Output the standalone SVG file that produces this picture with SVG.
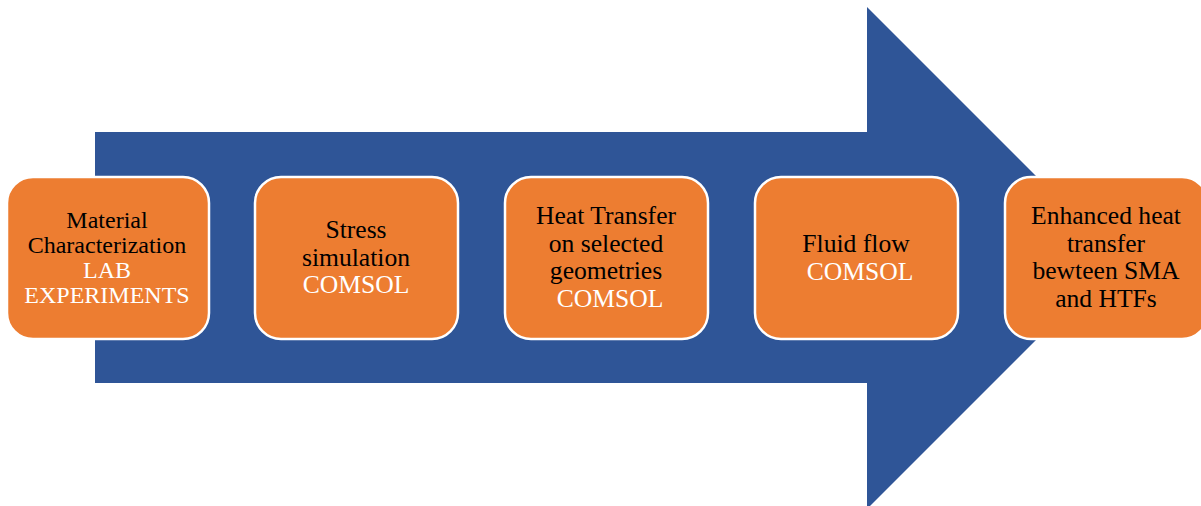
<svg xmlns="http://www.w3.org/2000/svg" width="1201" height="506" viewBox="0 0 1201 506">
<style>
.box{fill:#ED7D31;stroke:#FFFFFF;stroke-width:2.5}
.t{font-family:"Liberation Serif","Times New Roman",serif;font-size:25.6px;text-anchor:middle;fill:#000000}
.w{fill:#FFFFFF}
</style>
<rect width="1201" height="506" fill="#FFFFFF"/>
<g id="connectors">
<polygon points="95,132 867,132 867,7 1118,258 867,509 867,383 95,383" fill="#2F5597"/>
</g>
<g id="node1">
<rect class="box" x="7" y="177" width="202" height="162" rx="26"/>
<text class="t" style="font-size:24px"><tspan x="107" y="228">Material</tspan><tspan x="107" y="253">Characterization</tspan><tspan class="w" x="107" y="278">LAB</tspan><tspan class="w" x="107" y="303">EXPERIMENTS</tspan></text>
</g>
<g id="node2">
<rect class="box" x="255" y="177" width="203" height="162" rx="26"/>
<text class="t"><tspan x="356" y="238">Stress</tspan><tspan x="356" y="266">simulation</tspan><tspan class="w" x="356" y="293">COMSOL</tspan></text>
</g>
<g id="node3">
<rect class="box" x="505" y="177" width="203" height="162" rx="26"/>
<text class="t"><tspan x="606" y="224">Heat Transfer</tspan><tspan x="606" y="252">on selected</tspan><tspan x="606" y="279">geometries</tspan><tspan class="w" x="610" y="307">COMSOL</tspan></text>
</g>
<g id="node4">
<rect class="box" x="755" y="177" width="203" height="162" rx="26"/>
<text class="t"><tspan x="856" y="252">Fluid flow</tspan><tspan class="w" x="860" y="280">COMSOL</tspan></text>
</g>
<g id="node5">
<rect class="box" x="1005" y="177" width="203" height="162" rx="26"/>
<text class="t"><tspan x="1106" y="224">Enhanced heat</tspan><tspan x="1106" y="252">transfer</tspan><tspan x="1106" y="279">bewteen SMA</tspan><tspan x="1106" y="307">and HTFs</tspan></text>
</g>
</svg>
